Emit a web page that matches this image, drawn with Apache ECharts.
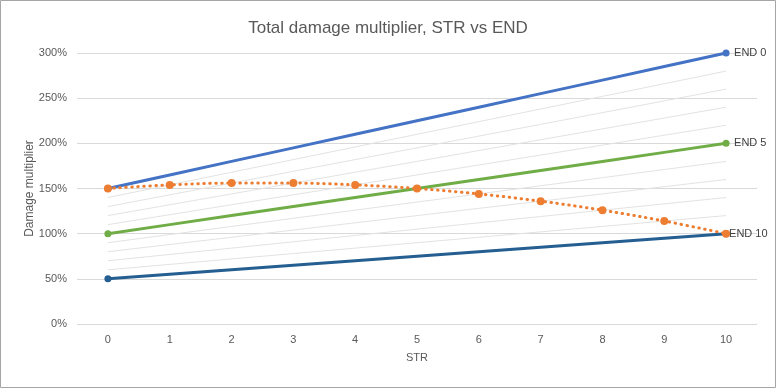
<!DOCTYPE html>
<html>
<head>
<meta charset="utf-8">
<script src="https://cdn.jsdelivr.net/npm/echarts@6/dist/echarts.min.js"></script>
<style>
html,body{margin:0;padding:0;background:#fff;}
#chart{width:776px;height:388px;}
</style>
</head>
<body>
<div id="chart"></div>
<script>
var categories = ['0','1','2','3','4','5','6','7','8','9','10'];
var yTicks = [0, 50, 100, 150, 200, 250, 300];

var end0  = [150,165,180,195,210,225,240,255,270,285,300];
var end1  = [140,154,168,182,196,210,224,238,252,266,280];
var end2  = [130,143,156,169,182,195,208,221,234,247,260];
var end3  = [120,132,144,156,168,180,192,204,216,228,240];
var end4  = [110,121,132,143,154,165,176,187,198,209,220];
var end5  = [100,110,120,130,140,150,160,170,180,190,200];
var end6  = [90,99,108,117,126,135,144,153,162,171,180];
var end7  = [80,88,96,104,112,120,128,136,144,152,160];
var end8  = [70,77,84,91,98,105,112,119,126,133,140];
var end9  = [60,66,72,78,84,90,96,102,108,114,120];
var end10 = [50,55,60,65,70,75,80,85,90,95,100];
var combined = [150,154,156,156,154,150,144,136,126,114,100];

var grayLines = [end1,end2,end3,end4,end6,end7,end8,end9];

var FONT = '"Liberation Sans", Arial, sans-serif';
var chart = echarts.init(document.getElementById('chart'), null, {renderer:'canvas'});

function endSym(v, p){ return (p.dataIndex === 0 || p.dataIndex === categories.length-1) ? 7 : 0; }

var series = [];
grayLines.forEach(function(arr, i){
  series.push({
    type:'line', name:'g'+i, data:arr, symbol:'none', silent:true, z:1,
    lineStyle:{color:'#e3e3e3', width:1}
  });
});
function mainLine(name, arr, color, dist){
  return {
    type:'line', name:name, data:arr, z:3,
    symbol:'circle', symbolSize:endSym, showAllSymbol:true,
    itemStyle:{color:color},
    lineStyle:{color:color, width:3},
    endLabel:{show:true, formatter:name, color:'#404040', fontFamily:FONT, fontSize:11, distance:dist}
  };
}
series.push(mainLine('END 0', end0, '#4472C4', 8));
series.push(mainLine('END 5', end5, '#70AD47', 8));
series.push(mainLine('END 10', end10, '#255E91', 3));
series.push({
  type:'line', name:'combined', data:combined, z:4, smooth:0.35,
  symbol:'circle', symbolSize:8, showAllSymbol:true,
  itemStyle:{color:'#ED7D31'},
  lineStyle:{color:'#ED7D31', width:3, type:[0.5,5.5], cap:'round'}
});

chart.setOption({
  animation:false,
  backgroundColor:'#fff',
  title:{
    text:'Total damage multiplier, STR vs END', left:'center', top:15,
    textStyle:{fontFamily:FONT, fontSize:17, fontWeight:'normal', color:'#595959'}
  },
  graphic:[{type:'rect', shape:{x:0.5,y:0.5,width:775,height:387}, style:{fill:'none', stroke:'#a6a6a6', lineWidth:1}, silent:true}],
  grid:{left:77, right:19, top:53, bottom:64, containLabel:false},
  xAxis:{
    type:'category', data:categories, boundaryGap:true,
    name:'STR', nameLocation:'middle', nameGap:28,
    nameTextStyle:{fontFamily:FONT, fontSize:11, color:'#595959'},
    axisLine:{show:false}, axisTick:{show:false},
    axisLabel:{fontFamily:FONT, fontSize:11, color:'#595959', margin:10}
  },
  yAxis:{
    type:'value', min:0, max:300, interval:50,
    name:'Damage multiplier', nameLocation:'middle', nameGap:41, nameRotate:90,
    nameMoveOverlap:false,
    nameTextStyle:{fontFamily:FONT, fontSize:12, color:'#595959'},
    axisLine:{show:false}, axisTick:{show:false},
    axisLabel:{fontFamily:FONT, fontSize:11, color:'#595959', margin:10, formatter:function(v){return v+'%';}},
    splitLine:{lineStyle:{color:'#d9d9d9', width:1}}
  },
  series:series
});
</script>
</body>
</html>
